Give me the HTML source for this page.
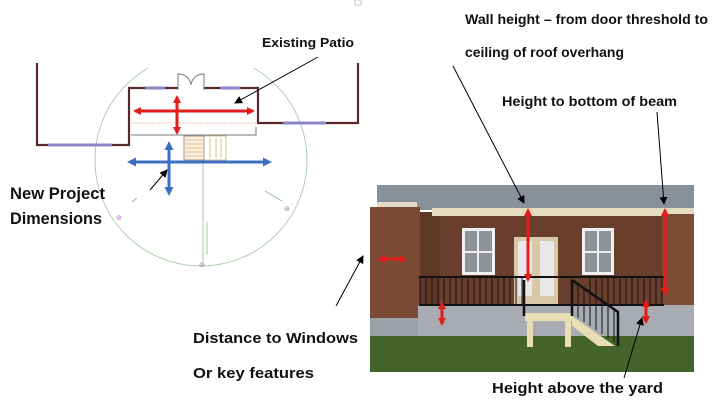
<!DOCTYPE html>
<html><head><meta charset="utf-8"><style>html,body{margin:0;padding:0;background:#fff;}svg{display:block}</style></head>
<body>
<svg width="717" height="408" viewBox="0 0 717 408" xmlns="http://www.w3.org/2000/svg" font-family="Liberation Sans, sans-serif" font-weight="bold" fill="#111">
<defs>
<marker id="ak" markerWidth="8" markerHeight="8" refX="7" refY="4" orient="auto" markerUnits="userSpaceOnUse"><path d="M0,0 L8,4 L0,8 Z" fill="#000"/></marker>
<marker id="ar" markerWidth="8" markerHeight="8" refX="6" refY="4" orient="auto-start-reverse" markerUnits="userSpaceOnUse"><path d="M0,0 L8,4 L0,8 Z" fill="#e31c1c"/></marker>
<marker id="ab" markerWidth="9" markerHeight="9" refX="6" refY="4.5" orient="auto-start-reverse" markerUnits="userSpaceOnUse"><path d="M0,0 L9,4.5 L0,9 Z" fill="#3b6fc4"/></marker>
</defs>
<!-- floor plan -->
<circle cx="201" cy="160" r="106" fill="none" stroke="#9cc79c" stroke-width="0.8"/>
<rect x="122" y="50" width="160" height="18" fill="#fff"/>
<path d="M37,63 V145 H129 V88 H258 V123 H358 V63" fill="none" stroke="#5a2a2a" stroke-width="2.2"/>
<line x1="48" y1="145" x2="112" y2="145" stroke="#8a86c8" stroke-width="3"/>
<line x1="283" y1="123" x2="326" y2="123" stroke="#8a86c8" stroke-width="3"/>
<line x1="145" y1="88" x2="165" y2="88" stroke="#8a86c8" stroke-width="3"/>
<line x1="220" y1="88" x2="240" y2="88" stroke="#8a86c8" stroke-width="3"/>
<path d="M178,90 V74 Q188,74 191,84 Q194,74 204,74 V90" fill="#fff" stroke="#777" stroke-width="1"/>
<path d="M131,123 H257" stroke="#f3c2b0" stroke-width="1" stroke-dasharray="2,1"/>
<path d="M131,135 H256 V127" fill="none" stroke="#777" stroke-width="1"/>
<rect x="184" y="136" width="20" height="24" fill="#fbf0dc" stroke="#888" stroke-width="0.8"/>
<path d="M185,140H203M185,144H203M185,148H203M185,152H203M185,156H203" stroke="#d9b07a" stroke-width="0.7"/>
<path d="M204,136 H226 V160 H204 M210,138V158 M216,138V158 M221,138V158" fill="none" stroke="#c9a070" stroke-width="0.7"/>
<line x1="203" y1="160" x2="203" y2="262" stroke="#8cbf8c" stroke-width="0.8"/>
<line x1="207" y1="222" x2="207" y2="255" stroke="#8cbf8c" stroke-width="0.8"/>
<line x1="137" y1="198" x2="132" y2="202" stroke="#8cbf8c"/><line x1="265" y1="191" x2="282" y2="201" stroke="#8cbf8c"/>
<text x="116" y="220" font-size="7" fill="#a060b0" font-weight="normal">⊘</text>
<text x="284" y="211" font-size="7" fill="#a060b0" font-weight="normal">⊘</text>
<text x="199" y="267" font-size="7" fill="#a060b0" font-weight="normal">⊘</text>
<line x1="135" y1="111" x2="253" y2="111" stroke="#e31c1c" stroke-width="3" marker-start="url(#ar)" marker-end="url(#ar)"/>
<line x1="177" y1="97" x2="177" y2="133" stroke="#e31c1c" stroke-width="3" marker-start="url(#ar)" marker-end="url(#ar)"/>
<line x1="130" y1="162" x2="269" y2="162" stroke="#3b6fc4" stroke-width="3" marker-start="url(#ab)" marker-end="url(#ab)"/>
<line x1="169" y1="144" x2="169" y2="193" stroke="#3b6fc4" stroke-width="3" marker-start="url(#ab)" marker-end="url(#ab)"/>
<line x1="318" y1="57" x2="235" y2="103" stroke="#000" stroke-width="1" marker-end="url(#ak)"/>
<line x1="150" y1="190" x2="167" y2="170" stroke="#000" stroke-width="1" marker-end="url(#ak)"/>
<rect x="355" y="0" width="6" height="5" fill="none" stroke="#9ab" stroke-width="0.6"/>
<!-- photo -->
<rect x="377" y="185" width="317" height="25" fill="#8a909a"/>
<rect x="377" y="202" width="40" height="6" fill="#e4dcc4"/>
<rect x="370" y="207" width="50" height="130" fill="#7a4a34"/>
<rect x="420" y="212" width="20" height="95" fill="#5e3726"/>
<rect x="432" y="208" width="262" height="8" fill="#e6dcc0"/>
<rect x="440" y="216" width="222" height="90" fill="#6a3e2c"/>
<rect x="662" y="214" width="32" height="92" fill="#7d4c35"/>
<rect x="462" y="228" width="33" height="47" fill="#f0f0f0"/><rect x="465" y="231" width="27" height="41" fill="#8f9296"/><path d="M478,231V272M465,252H492" stroke="#eee" stroke-width="2"/>
<rect x="582" y="228" width="32" height="47" fill="#f0f0f0"/><rect x="585" y="231" width="26" height="41" fill="#8f9296"/><path d="M598,231V272M585,252H611" stroke="#eee" stroke-width="2"/>
<rect x="514" y="237" width="44" height="68" fill="#d8c8a8"/><rect x="518" y="241" width="14" height="55" fill="#e8e8e8"/><rect x="540" y="241" width="14" height="55" fill="#e8e8e8"/>
<rect x="370" y="318" width="48" height="24" fill="#9da0a6"/>
<rect x="418" y="305" width="276" height="31" fill="#a9abb2"/>
<rect x="370" y="336" width="324" height="36" fill="#44632a"/>
<rect x="525" y="313" width="48" height="8" fill="#e8ddb5"/>
<rect x="527" y="320" width="6" height="27" fill="#e8ddb5"/><rect x="565" y="320" width="6" height="27" fill="#e8ddb5"/>
<path d="M572,316L615,346H598L572,326Z" fill="#e8ddb5"/>
<g stroke="#111" stroke-width="1" fill="none">
<path d="M419,277H664M419,305H664" stroke-width="2"/>
<path d="M420,277V305M426,277V305M432,277V305M438,277V305M444,277V305M450,277V305M456,277V305M462,277V305M468,277V305M474,277V305M480,277V305M486,277V305M492,277V305M498,277V305M504,277V305M510,277V305M516,277V305M522,277V305M590,277V305M596,277V305M602,277V305M608,277V305M614,277V305M620,277V305M626,277V305M632,277V305M638,277V305M644,277V305M650,277V305M656,277V305M662,277V305"/>
<path d="M524,280V316M572,280V316" stroke-width="2.5"/>
<path d="M572,280L618,312V346" stroke-width="2.5"/>
<path d="M578,285V318M584,289V322M590,293V326M596,297V330M602,301V334M608,305V338M614,309V342"/>
</g>
<line x1="528" y1="210" x2="528" y2="280" stroke="#e31c1c" stroke-width="3" marker-start="url(#ar)" marker-end="url(#ar)"/>
<line x1="665" y1="210" x2="665" y2="294" stroke="#e31c1c" stroke-width="3" marker-start="url(#ar)" marker-end="url(#ar)"/>
<line x1="442" y1="303" x2="442" y2="324" stroke="#e31c1c" stroke-width="3" marker-start="url(#ar)" marker-end="url(#ar)"/>
<line x1="646" y1="301" x2="646" y2="322" stroke="#e31c1c" stroke-width="3" marker-start="url(#ar)" marker-end="url(#ar)"/>
<line x1="379" y1="259" x2="405" y2="259" stroke="#e31c1c" stroke-width="3" marker-start="url(#ar)" marker-end="url(#ar)"/>
<line x1="453" y1="66" x2="524" y2="203" stroke="#000" stroke-width="1" marker-end="url(#ak)"/>
<line x1="657" y1="112" x2="664" y2="204" stroke="#000" stroke-width="1" marker-end="url(#ak)"/>
<line x1="624" y1="378" x2="642" y2="318" stroke="#000" stroke-width="1" marker-end="url(#ak)"/>
<line x1="336" y1="306" x2="363" y2="256" stroke="#000" stroke-width="1" marker-end="url(#ak)"/>
<!-- text -->
<text x="262" y="47" font-size="13" textLength="92" lengthAdjust="spacingAndGlyphs">Existing Patio</text>
<text x="465" y="24" font-size="14" textLength="243" lengthAdjust="spacingAndGlyphs">Wall height – from door threshold to</text>
<text x="465" y="57" font-size="14" textLength="159" lengthAdjust="spacingAndGlyphs">ceiling of roof overhang</text>
<text x="502" y="106" font-size="14" textLength="175" lengthAdjust="spacingAndGlyphs">Height to bottom of beam</text>
<text x="10" y="199" font-size="17" textLength="95" lengthAdjust="spacingAndGlyphs">New Project</text>
<text x="10" y="224" font-size="17" textLength="92" lengthAdjust="spacingAndGlyphs">Dimensions</text>
<text x="193" y="343" font-size="15" textLength="165" lengthAdjust="spacingAndGlyphs">Distance to Windows</text>
<text x="193" y="378" font-size="15" textLength="121" lengthAdjust="spacingAndGlyphs">Or key features</text>
<text x="492" y="393" font-size="15" textLength="171" lengthAdjust="spacingAndGlyphs">Height above the yard</text>
</svg>
</body></html>
